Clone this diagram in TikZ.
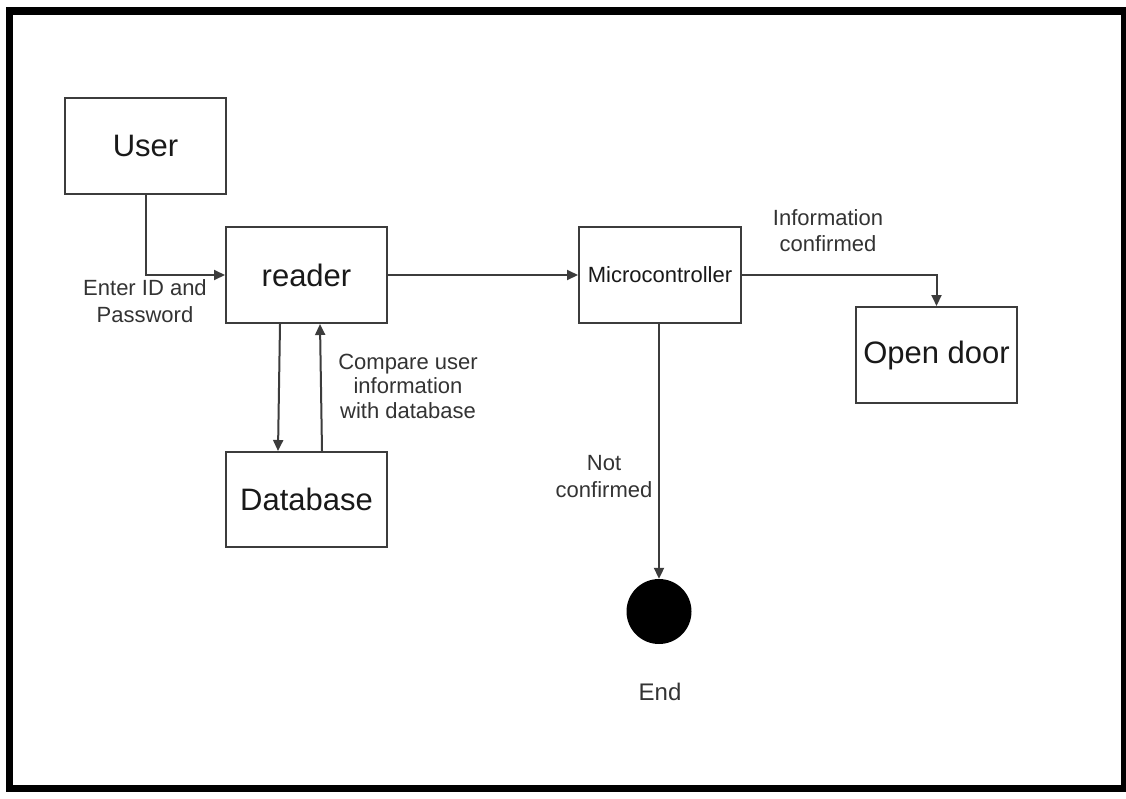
\documentclass[tikz,border=0pt]{standalone}
\usepackage{fontspec}
\setmainfont{Liberation Sans}
\usetikzlibrary{arrows.meta}
\definecolor{linec}{HTML}{3C3C3C}
\definecolor{labc}{HTML}{333333}
\begin{document}
\begin{tikzpicture}[x=1pt,y=-1pt,
  boxnode/.style={draw=linec,line width=2pt,rectangle,minimum width=161pt,minimum height=96pt,inner sep=0pt,text=black!90,font=\fontsize{31}{35}\selectfont},
  smallbox/.style={boxnode,font=\fontsize{22}{26}\selectfont},
  lab/.style={align=center,text=labc,font=\fontsize{22}{26.5}\selectfont,inner sep=0pt},
  arr/.style={draw=linec,line width=2pt,-{Triangle[length=11pt,width=10pt]}}]
\useasboundingbox (0,0) rectangle (1126,798);
\fill[white] (0,0) rectangle (1126,798);
\draw[line width=7.5pt,black] (9.5,11) rectangle (1125,788.5);

\node[boxnode] (user) at (145.5,146) {User};
\node[boxnode] (reader) at (306.5,275) {reader};
\node[smallbox,minimum width=162pt] (micro) at (660,275) {Microcontroller};
\node[boxnode] (open) at (936.5,355) {Open door};
\node[boxnode,minimum height=95pt] (db) at (306.5,499.5) {Database};
\node[circle,fill=black,minimum size=65pt,inner sep=0pt] (endc) at (659,611.5) {};
\node[lab,font=\fontsize{24}{28}\selectfont] (endl) at (660,692) {End};

\draw[arr] (user.south) |- (reader.west);
\draw[arr] (reader.east) -- (micro.west);
\draw[arr] (micro.east) -| (open.north);
\draw[arr] (micro.south -| endc.north) -- (endc.north);
\draw[arr] ([xshift=-26.5pt]reader.south) -- ([xshift=-28.5pt]db.north);
\draw[arr] ([xshift=15.5pt]db.north) -- ([xshift=13.5pt]reader.south);

\node[lab] (l1) at (145,301) {Enter ID and\\Password};
\node[lab,font=\fontsize{22}{24.5}\selectfont] (l2) at (408,386) {Compare user\\information\\with database};
\node[lab] (l3) at (828,230.5) {Information\\confirmed};
\node[lab] (l4) at (604,476.5) {Not\\confirmed};
\end{tikzpicture}
\end{document}
